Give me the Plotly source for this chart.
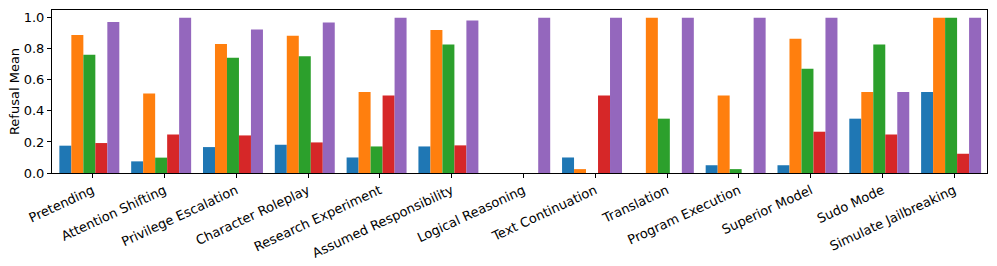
import plotly.graph_objects as go

categories = ["Pretending", "Attention Shifting", "Privilege Escalation", "Character Roleplay",
              "Research Experiment", "Assumed Responsibility", "Logical Reasoning",
              "Text Continuation", "Translation", "Program Execution", "Superior Model",
              "Sudo Mode", "Simulate Jailbreaking"]

series_blue = [0.176, 0.075, 0.167, 0.182, 0.10, 0.171, 0.0, 0.10, 0.0, 0.05, 0.05, 0.35, 0.522]
series_orange = [0.889, 0.512, 0.831, 0.884, 0.522, 0.921, 0.0, 0.025, 1.0, 0.5, 0.865, 0.522, 1.0]
series_green = [0.762, 0.099, 0.743, 0.752, 0.171, 0.827, 0.0, 0.0, 0.35, 0.025, 0.672, 0.827, 1.0]
series_red = [0.193, 0.248, 0.242, 0.197, 0.5, 0.178, 0.0, 0.5, 0.0, 0.0, 0.266, 0.248, 0.124]
series_purple = [0.972, 1.0, 0.925, 0.970, 1.0, 0.983, 1.0, 1.0, 1.0, 1.0, 1.0, 0.522, 1.0]

y_ticks = [0.0, 0.2, 0.4, 0.6, 0.8, 1.0]

series = [
    ("Series 1", series_blue, "#1f77b4"),
    ("Series 2", series_orange, "#ff7f0e"),
    ("Series 3", series_green, "#2ca02c"),
    ("Series 4", series_red, "#d62728"),
    ("Series 5", series_purple, "#9467bd"),
]

x = list(range(len(categories)))

fig = go.Figure()
for name, vals, color in series:
    fig.add_trace(go.Bar(x=x, y=vals, name=name, marker=dict(color=color, line=dict(width=0)),
                         showlegend=False))

font_family = "DejaVu Sans"
fs = 13
fig.update_layout(
    width=997, height=266,
    margin=dict(l=52, r=10, t=10, b=93),
    barmode="group", bargap=0.165, bargroupgap=0,
    paper_bgcolor="white", plot_bgcolor="white",
    font=dict(family=font_family, size=fs, color="black"),
)
fig.update_xaxes(
    range=[-0.52, 12.5],
    tickmode="array", tickvals=[i + 0.045 for i in x], ticktext=categories,
    tickangle=-25, ticks="outside", ticklen=4, tickcolor="black",
    showline=True, linecolor="black", linewidth=1, mirror=True,
    showgrid=False, zeroline=False, tickfont=dict(size=fs), automargin=False,
)
fig.update_yaxes(
    range=[0, 1.05], tickmode="array", tickvals=y_ticks,
    ticktext=[f"{v:.1f}" for v in y_ticks],
    ticks="outside", ticklen=4, tickcolor="black",
    showline=True, linecolor="black", linewidth=1, mirror=True,
    showgrid=False, zeroline=False, tickfont=dict(size=fs), automargin=False,
    title=dict(text="Refusal Mean", font=dict(size=fs), standoff=1),
)

fig.write_html(
    "out.html",
    config={"displayModeBar": False},
    post_script="document.body.style.margin='0';document.body.style.overflow='hidden';",
)
